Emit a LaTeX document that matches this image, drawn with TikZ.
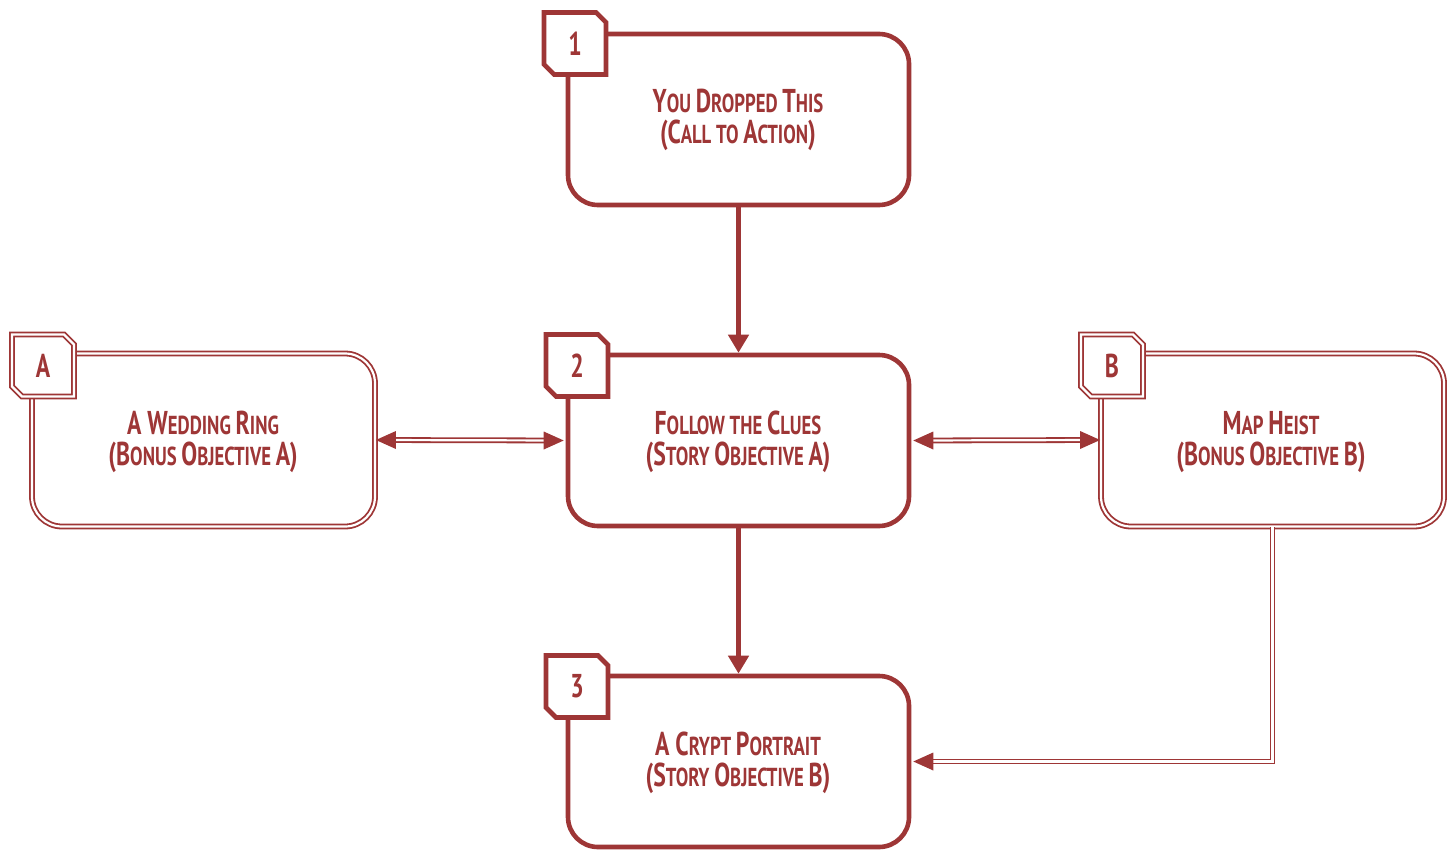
\documentclass[tikz,border=0pt]{standalone}
\usepackage{fontspec}
\setmainfont{PT Sans}[FakeStretch=0.72]
\usetikzlibrary{arrows.meta}
\definecolor{dred}{RGB}{158,54,54}
\newcommand\Bg[1]{{\fontsize{33}{33}\selectfont #1}}
\tikzset{
  x=1pt,y=-1pt,
  box/.style={draw=dred, line width=4.6pt, rounded corners=30pt, minimum width=341pt, minimum height=171pt, fill=white, inner sep=0pt},
  dbox/.style={draw=dred, line width=1.8pt, double=white, double distance=2.2pt, rounded corners=30pt, minimum width=343pt, minimum height=173pt, inner sep=0pt},
  txt/.style={text=dred, font=\bfseries\fontsize{26}{31}\selectfont, align=center},
  badge/.style={draw=dred, line width=4.6pt, fill=white, line join=miter},
  dbadge/.style={draw=dred, line width=1.8pt, double=white, double distance=2.2pt, fill=white},
  thick arrow/.style={draw=dred, line width=4.6pt, -{Triangle[length=18pt,width=20pt]}},
  dline/.style={draw=dred, line width=1.8pt, double=white, double distance=2.2pt},
  dtip/.style={fill=dred, draw=none},
}
\newcommand\badgepath[3]{% center x, y, style
  \path[#3] (#1-31,#2-31) -- (#1+21,#2-31) -- (#1+31,#2-21) -- (#1+31,#2+31) -- (#1-21,#2+31) -- (#1-31,#2+21) -- cycle;}
\begin{document}
\begin{tikzpicture}
\useasboundingbox (0,0) rectangle (1455,851);
\fill[white] (0,0) rectangle (1455,851);

% main boxes
\node[box] (b1) at (738.5,119.5) {};
\node[box] (b2) at (738.5,440.5) {};
\node[box] (b3) at (738.5,761.5) {};
\node[dbox] (bA) at (203.5,440) {};
\node[dbox] (bB) at (1272.5,440) {};

% texts
\node[txt] (t1) at (738,120) {\Bg{Y}OU \Bg{D}ROPPED \Bg{T}HIS\\\Bg{(C}ALL TO \Bg{A}CTION\Bg{)}};
\node[txt] (t2) at (738,442) {\Bg{F}OLLOW THE \Bg{C}LUES\\\Bg{(S}TORY \Bg{O}BJECTIVE \Bg{A)}};
\node[txt] (t3) at (738,763) {\Bg{A C}RYPT \Bg{P}ORTRAIT\\\Bg{(S}TORY \Bg{O}BJECTIVE \Bg{B)}};
\node[txt] (tA) at (203,442) {\Bg{A W}EDDING \Bg{R}ING\\\Bg{(B}ONUS \Bg{O}BJECTIVE \Bg{A)}};
\node[txt] (tB) at (1271,442) {\Bg{M}AP \Bg{H}EIST\\\Bg{(B}ONUS \Bg{O}BJECTIVE \Bg{B)}};

% badges
\badgepath{575}{43.5}{badge}
\node[txt] (n1) at (575,43.5) {\Bg{1}};
\badgepath{577}{365.5}{badge}
\node[txt] (n2) at (577,365.5) {\Bg{2}};
\badgepath{577}{686.5}{badge}
\node[txt] (n3) at (577,686.5) {\Bg{3}};
\badgepath{43}{365.5}{dbadge}
\node[txt] (nA) at (43,365.5) {\Bg{A}};
\badgepath{1112}{365.5}{dbadge}
\node[txt] (nB) at (1112,365.5) {\Bg{B}};

% connectors
\draw[thick arrow] (b1.south) -- (b2.north);
\draw[thick arrow] (b2.south) -- (b3.north);

\draw[dline, shorten <=18pt, shorten >=18pt] (bA.east) -- (b2.west);
\fill[dtip] (bA.east) -- ++(20,-9) -- ++(0,18) -- cycle;
\fill[dtip] ([xshift=-2pt]b2.west) -- ++(-20,-9) -- ++(0,18) -- cycle;

\draw[dline, shorten <=18pt, shorten >=18pt] ([xshift=2pt]b2.east) -- (bB.west);
\fill[dtip] ([xshift=2pt]b2.east) -- ++(20,-9) -- ++(0,18) -- cycle;
\fill[dtip] (bB.west) -- ++(-20,-9) -- ++(0,18) -- cycle;

\coordinate (corner) at (bB.south |- b3.east);
\draw[dline, shorten >=18pt] (bB.south) -- (corner) -- ([xshift=2pt]b3.east);
\fill[dtip] ([xshift=2pt]b3.east) -- ++(20,-9) -- ++(0,18) -- cycle;
\end{tikzpicture}
\end{document}
